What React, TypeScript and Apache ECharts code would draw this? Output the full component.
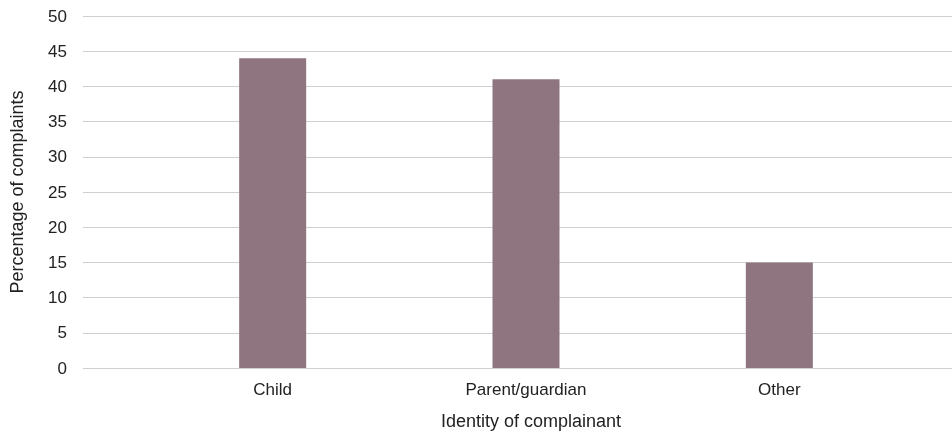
import React, { useEffect, useRef } from "react";
import * as echarts from "echarts";

const categories = ["Child", "Parent/guardian", "Other"];
const percentages = [44, 41, 15];
const yMin = 0;
const yMax = 50;
const yInterval = 5;

export default function App() {
  const ref = useRef<HTMLDivElement>(null);
  useEffect(() => {
    if (!ref.current) return;
    const chart = echarts.init(ref.current, null, { renderer: "svg" });
    const font = "'Liberation Sans', Arial, Helvetica, sans-serif";
    chart.setOption({
      animation: false,
      textStyle: { fontFamily: font },
      grid: [
        { left: 79, right: 0, top: 16, bottom: 65 },
        { left: 146, right: 46, top: 16, bottom: 65 },
      ],
      xAxis: [
        {
          gridIndex: 0,
          type: "value",
          show: false,
        },
        {
          gridIndex: 1,
          type: "category",
          data: categories,
          axisLine: { show: false },
          axisTick: { show: false },
          axisLabel: { color: "#222", fontSize: 17, margin: 13, fontFamily: font },
        },
      ],
      yAxis: [
        {
          gridIndex: 0,
          type: "value",
          min: yMin,
          max: yMax,
          interval: yInterval,
          axisLine: { show: false },
          axisTick: { show: false },
          axisLabel: { color: "#222", fontSize: 17, margin: 16, fontFamily: font },
          splitLine: { lineStyle: { color: "#cfcfcf", width: 1 } },
          name: "Percentage of complaints",
          nameLocation: "middle",
          nameGap: 57,
          nameTextStyle: { color: "#222", fontSize: 18, fontFamily: font },
        },
        {
          gridIndex: 1,
          type: "value",
          min: yMin,
          max: yMax,
          interval: yInterval,
          show: false,
        },
      ],
      graphic: [
        {
          type: "text",
          x: 531,
          y: 421,
          style: {
            text: "Identity of complainant",
            fill: "#222",
            fontSize: 18,
            fontFamily: font,
            align: "center",
            verticalAlign: "middle",
          },
        },
      ],
      series: [
        {
          type: "bar",
          xAxisIndex: 1,
          yAxisIndex: 1,
          data: percentages,
          barWidth: 67,
          itemStyle: { color: "#8e7580" },
        },
      ],
    });
    return () => chart.dispose();
  }, []);
  return (
    <div
      ref={ref}
      style={{ position: "fixed", left: 0, top: 0, width: 952, height: 433 }}
    />
  );
}
